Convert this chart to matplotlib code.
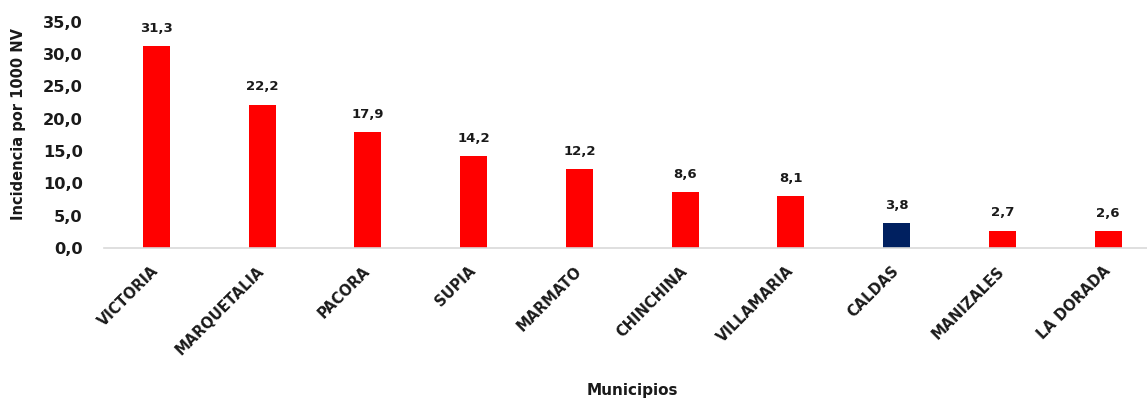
import matplotlib
matplotlib.use("Agg")
import matplotlib.pyplot as plt

# Incidencia por municipio (por 1000 nacidos vivos)
municipios = ["VICTORIA", "MARQUETALIA", "PACORA", "SUPIA", "MARMATO",
              "CHINCHINA", "VILLAMARIA", "CALDAS", "MANIZALES", "LA DORADA"]
incidencia = [31.3, 22.2, 17.9, 14.2, 12.2, 8.6, 8.1, 3.8, 2.7, 2.6]
yticks = [0, 5, 10, 15, 20, 25, 30, 35]

plt.rcParams['font.family'] = ['DejaVu Sans']
plt.rcParams['font.weight'] = 'bold'

colores = ['#002060' if m == "CALDAS" else '#FF0000' for m in municipios]

fig = plt.figure(figsize=(11.47, 3.98), dpi=100)
ax = fig.add_axes([0.0903, 0.377, 0.922, 0.568])

x = range(len(municipios))
barras = ax.bar(x, incidencia, width=0.255, color=colores, zorder=2)

for xi, v in zip(x, incidencia):
    ax.annotate(f"{v:.1f}".replace('.', ','), (xi, v), xytext=(0, 8),
                textcoords='offset points', ha='center', va='bottom',
                fontsize=9.5, fontweight='bold', color='#1a1a1a')

ax.set_xlim(-0.5, len(municipios) - 0.5)
ax.set_ylim(0, 35)
ax.set_yticks(yticks)
ax.set_yticklabels([f"{t:.1f}".replace('.', ',') for t in yticks],
                   fontsize=11.7, fontweight='bold')
ax.set_xticks(list(x))
ax.set_xticklabels(municipios, rotation=45, ha='right', va='center',
                   rotation_mode='anchor', fontsize=10.5, fontweight='bold')

for s in ['top', 'right', 'left']:
    ax.spines[s].set_visible(False)
ax.spines['bottom'].set_color('#d9d9d9')
ax.spines['bottom'].set_linewidth(1.2)
ax.tick_params(axis='both', length=0, colors='#1a1a1a')
ax.tick_params(axis='x', pad=15)
ax.tick_params(axis='y', pad=15)

ax.set_ylabel("Incidencia por 1000 NV", fontsize=10.5, fontweight='bold',
              color='#1a1a1a')
ax.yaxis.set_label_coords(-0.073, 0.55)
ax.set_xlabel("Municipios", fontsize=11, fontweight='bold', color='#1a1a1a')
ax.xaxis.set_label_coords(0.5, -0.597)

fig.savefig("out.png", dpi=100)
